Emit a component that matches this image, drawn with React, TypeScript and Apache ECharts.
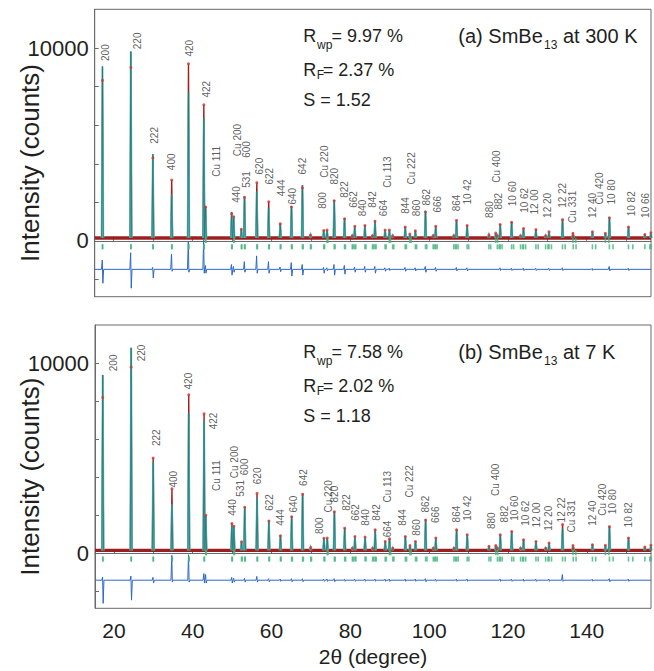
import React, { useEffect, useRef } from 'react';
import * as echarts from 'echarts';

// ---- axis ranges / ticks ----
const X_MIN = 15.2;
const X_MAX = 156.3;
const Y_MIN = -2900;
const Y_MAX = 12020;
const xTicks = [20, 30, 40, 50, 60, 70, 80, 90, 100, 110, 120, 130, 140, 150];
const xTickLabels = [20, 40, 60, 80, 100, 120, 140];
const yTicks = [-2000, 0, 2000, 4000, 6000, 8000, 10000];
const yTickLabels = [0, 10000];

// ---- SmBe13 reflections (2theta, deg) ----
const smbePos = [17.17, 24.37, 29.96, 34.73, 38.99, 42.88, 49.94, 52.39, 53.2, 56.32, 59.33, 62.26, 65.11, 67.89, 69.94, 73.3, 75.95, 78.57, 80.52, 81.17, 83.74, 85.66, 86.3, 88.85, 90.77, 93.96, 96.53, 99.1, 101.05, 101.7, 106.29, 106.97, 109.66, 115.19, 117.33, 118.05, 120.95, 123.2, 123.96, 127.11, 129.57, 130.43, 133.86, 136.57, 141.44, 145.75, 150.59, 154.74, 156.28];
const smbePosKa2 = [17.21, 24.43, 30.04, 34.82, 39.09, 42.99, 50.07, 52.53, 53.34, 56.47, 59.49, 62.43, 65.29, 68.08, 70.14, 73.51, 76.17, 78.8, 80.76, 81.41, 84.0, 85.92, 86.57, 89.13, 91.06, 94.27, 96.85, 99.44, 101.4, 102.05, 106.67, 107.36, 110.07, 115.64, 117.8, 118.53, 121.45, 123.73, 124.5, 127.68, 130.18, 131.05, 134.53, 137.29, 142.26, 146.68, 151.68, 156.01, 157.6];
// ---- Cu (sample holder) reflections ----
const cuPos = [43.32, 50.45, 74.13, 89.94, 95.14, 116.92, 136.5, 144.72];
const cuPosKa2 = [43.43, 50.59, 74.35, 90.23, 95.45, 117.39, 137.22, 145.62];

// ---- panel (a) 300 K ----
const calcA = [9050, 9830, 4500, 2400, 7720, 6370, 1500, 600, 2330, 2550, 1700, 900, 1800, 2900, 300, 560, 2120, 1170, 260, 770, 820, 260, 1040, 560, 260, 730, 520, 1560, 260, 770, 260, 1080, 820, 300, 260, 870, 990, 260, 645, 590, 260, 470, 1130, 260, 470, 1220, 730, 330, 420];
const obsA = [8330, 9000, 4300, 3160, 9190, 7060, 1400, 600, 2250, 3020, 2030, 880, 1760, 2750, 300, 540, 2080, 1150, 260, 760, 800, 260, 1020, 560, 260, 720, 520, 1500, 260, 760, 260, 1060, 800, 300, 260, 850, 960, 260, 640, 580, 260, 470, 1100, 260, 470, 1200, 720, 330, 420];
const diffUpA = [480, 860, 100, 800, 1450, 1540, 250, 0, 400, 700, 400, 120, 350, 250, 0, 100, 250, 200, 0, 120, 150, 0, 150, 80, 0, 100, 80, 150, 0, 100, 0, 100, 80, 0, 0, 80, 60, 0, 60, 60, 0, 60, 80, 0, 50, 150, 60, 0, 0];
const diffDownA = [-720, -980, -450, -100, -150, -200, -300, 0, -150, -200, -200, -120, -350, -300, 0, -200, -300, -250, 0, -150, -150, 0, -200, -100, 0, -100, -80, -150, 0, -100, 0, -80, -80, 0, 0, -60, -60, 0, -60, -60, 0, -60, -60, 0, -50, -80, -60, 0, 0];
const cuCalcA = [1800, 1250, 560, 560, 350, 400, 385, 385];
const cuObsA = [1750, 1250, 560, 560, 350, 400, 385, 385];
const cuDiffUpA = [200, 150, 80, 60, 0, 0, 0, 0];
const cuDiffDownA = [-200, -150, -80, -60, 0, 0, 0, 0];
const bgA = 150;
const diffBaseA = -1480;

// ---- panel (b) 7 K ----
const calcB = [9390, 10820, 4780, 2560, 7370, 6970, 1580, 600, 2440, 2910, 1720, 930, 1940, 3135, 300, 800, 2200, 1330, 260, 890, 860, 260, 1245, 630, 260, 890, 630, 1770, 260, 810, 260, 1245, 980, 370, 260, 980, 1155, 260, 720, 630, 260, 546, 1300, 260, 457, 1418, 808, 330, 420];
const obsB = [8200, 9800, 5010, 3400, 8350, 7340, 1560, 600, 2420, 3150, 1700, 920, 1920, 3100, 300, 790, 2180, 1320, 260, 880, 850, 260, 1230, 620, 260, 880, 620, 1750, 260, 800, 260, 1230, 970, 370, 260, 970, 1140, 260, 710, 620, 260, 540, 1507, 260, 450, 1400, 800, 330, 420];
const diffUpB = [170, 220, 150, 1310, 1340, 350, 150, 0, 100, 200, 80, 60, 80, 80, 0, 60, 80, 60, 0, 60, 60, 0, 60, 60, 0, 60, 60, 80, 0, 60, 0, 60, 60, 0, 0, 60, 60, 0, 60, 60, 0, 60, 300, 0, 50, 80, 60, 0, 0];
const diffDownB = [-1220, -1050, -150, -100, -100, -150, -150, 0, -100, -100, -80, -60, -80, -80, 0, -60, -80, -60, 0, -60, -60, 0, -60, -60, 0, -60, -60, -80, 0, -60, 0, -60, -60, 0, 0, -60, -60, 0, -60, -60, 0, -60, -60, 0, -50, -80, -60, 0, 0];
const cuCalcB = [2000, 1420, 800, 756, 400, 400, 404, 420];
const cuObsB = [2000, 1420, 800, 756, 400, 400, 404, 420];
const cuDiffUpB = [300, 100, 60, 60, 0, 0, 0, 0];
const cuDiffDownB = [-150, -100, -60, -60, 0, 0, 0, 0];
const bgB = 150;
const diffBaseB = -1420;

// ---- peak labels: [text, 2theta, counts] ----
const labelsA: [string, number, number][] = [
  ['200', 18.1, 9313], ['220', 26.29, 9922], ['222', 30.52, 5016], ['400', 34.76, 3642],
  ['420', 39.4, 9542], ['422', 43.63, 7409], ['Cu 111', 46.17, 3299], ['Cu 200', 51.49, 4371],
  ['440', 51.24, 1946], ['531', 53.92, 2726], ['600', 53.92, 4287], ['620', 57.15, 3418],
  ['622', 59.68, 2898], ['444', 62.65, 2289], ['640', 65.44, 1857], ['642', 67.97, 3418],
  ['800', 73.19, 1634], ['Cu 220', 73.63, 3247], ['820', 76.16, 2898], ['822', 78.7, 2206],
  ['662', 80.98, 1686], ['840', 83.18, 1249], ['842', 85.87, 1686], ['664', 88.59, 1249],
  ['Cu 113', 89.68, 2726], ['844', 94.09, 1374], ['Cu 222', 95.76, 2898], ['860', 96.88, 1249],
  ['862', 99.41, 1805], ['666', 102.28, 1441], ['864', 107.17, 1509], ['10 42', 109.96, 1857],
  ['880', 115.46, 1165], ['Cu 400', 117.16, 2987], ['882', 117.74, 1597], ['10 60', 121.37, 1769],
  ['10 62', 124.34, 1426], ['12 00', 126.87, 1337], ['12 20', 130.24, 1165], ['12 22', 133.89, 1686],
  ['Cu 331', 136.58, 905], ['12 40', 141.5, 1165], ['Cu 420', 143.35, 1857], ['10 80', 146.32, 1857],
  ['10 82', 151.39, 1249], ['10 66', 155.02, 1165],
];
const labelsB: [string, number, number][] = [
  ['200', 20.13, 9559], ['220', 27.15, 10084], ['222', 30.95, 5620], ['400', 35.16, 3435],
  ['420', 39.14, 8597], ['422', 45.48, 6497], ['Cu 111', 46.17, 3256], ['Cu 200', 50.81, 3923],
  ['440', 50.1, 1943], ['531', 52.28, 2952], ['600', 53.34, 4081], ['620', 56.44, 3608],
  ['622', 59.58, 2206], ['444', 62.39, 1418], ['640', 65.59, 2122], ['642', 68.12, 3519],
  ['800', 72.36, 982], ['Cu 220', 74.46, 2122], ['820', 76.16, 2647], ['822', 79.13, 2206],
  ['662', 81.49, 1681], ['840', 83.95, 1418], ['842', 86.73, 1681], ['Cu 113', 89.52, 2647],
  ['664', 89.52, 809], ['844', 93.48, 1418], ['Cu 222', 95.18, 2910], ['860', 96.88, 893],
  ['862', 99.24, 2122], ['666', 101.64, 1560], ['864', 107.02, 1597], ['10 42', 109.81, 1681],
  ['880', 115.89, 1245], ['Cu 400', 116.98, 2994], ['882', 119.27, 1597], ['10 60', 121.8, 1681],
  ['10 62', 124.59, 1418], ['12 00', 127.3, 1334], ['12 20', 130.5, 1155], ['12 22', 133.64, 1597],
  ['Cu 331', 136.18, 1071], ['12 40', 141.65, 1418], ['Cu 420', 144.04, 1943], ['10 80', 146.57, 2032],
  ['10 82', 150.78, 1334],
];

const FONT = '"Liberation Sans", Arial, Helvetica, sans-serif';
const PEAK_HW = 0.2;
const RED = '#9c1f1f';
const DOT = '#d8362e';
const TEAL_L = '#6cc0bc';
const TEAL_D = '#1d7472';
const GREEN = '#3db57a';
const BLUE = '#2d67c9';
const AXIS = '#6a6a6a';
const TXT = '#231f20';

function spikes(pos: number[], h: number[], bg: number) {
  return pos.map((p, i) => ({ coords: [[p - PEAK_HW, bg], [p, h[i]], [p + PEAK_HW, bg]] }));
}

function diffPoints(pos: number[], up: number[], down: number[], base: number) {
  const pts: number[][] = [];
  pos.forEach((p, i) => {
    if (up[i] || down[i]) {
      pts.push([p - 0.25, base], [p - 0.05, base + up[i]], [p + 0.1, base + down[i]], [p + 0.3, base]);
    }
  });
  pts.sort((a, b) => a[0] - b[0]);
  return [[X_MIN, base], ...pts, [X_MAX, base]];
}

function panelSeries(
  idx: number, calc: number[], obs: number[], up: number[], down: number[],
  cuCalc: number[], cuObs: number[], cuUp: number[], cuDown: number[],
  bg: number, dBase: number, labels: [string, number, number][]
) {
  const allPos = [...smbePos, ...cuPos];
  const allCalc = [...calc, ...cuCalc];
  const allObs = [...obs, ...cuObs];
  const common = { xAxisIndex: idx, yAxisIndex: idx, silent: true };
  return [
    {
      ...common, type: 'line', data: [[X_MIN, bg], [X_MAX, bg]], symbol: 'none',
      lineStyle: { color: RED, width: 3.4 }, z: 2,
    },
    {
      ...common, type: 'lines', coordinateSystem: 'cartesian2d', polyline: true,
      data: spikes(allPos, allObs, bg), lineStyle: { color: RED, width: 1.4, opacity: 1 }, z: 3,
    },
    {
      ...common, type: 'lines', coordinateSystem: 'cartesian2d', polyline: true,
      data: spikes(allPos, allCalc, bg), lineStyle: { color: TEAL_L, width: 2, opacity: 1 }, z: 4,
    },
    {
      ...common, type: 'lines', coordinateSystem: 'cartesian2d', polyline: true,
      data: spikes(allPos, allCalc, bg), lineStyle: { color: TEAL_D, width: 0.8, opacity: 1 }, z: 5,
    },
    {
      ...common, type: 'scatter', symbol: 'circle', symbolSize: 3,
      data: allPos.map((p, i) => [p, allObs[i]]), itemStyle: { color: DOT }, z: 6,
    },
    {
      ...common, type: 'scatter', symbol: 'rect', symbolSize: [1.6, 5],
      data: [...smbePos, ...smbePosKa2].map((p) => [p, -310]), itemStyle: { color: GREEN }, z: 6,
    },
    {
      ...common, type: 'scatter', symbol: 'rect', symbolSize: [1.6, 5],
      data: [...cuPos, ...cuPosKa2].map((p) => [p, 20]), itemStyle: { color: GREEN }, z: 7,
    },
    {
      ...common, type: 'line', symbol: 'none',
      data: diffPoints(allPos, [...up, ...cuUp], [...down, ...cuDown], dBase),
      lineStyle: { color: BLUE, width: 1 }, z: 5,
    },
    {
      ...common, type: 'scatter', symbolSize: 1, itemStyle: { color: 'rgba(0,0,0,0)' }, z: 8,
      data: labels.map(([t, x, y]) => ({ name: t, value: [x, y] })),
      label: {
        show: true, formatter: '{b}', rotate: 90, position: [0, 0], align: 'left',
        verticalAlign: 'middle', fontSize: 10, color: '#333', fontFamily: FONT,
      },
    },
  ];
}

function textEl(text: string, x: number, y: number, size: number) {
  return {
    type: 'text', x, y, silent: true,
    style: { text, fill: TXT, fontSize: size, fontFamily: FONT, verticalAlign: 'middle', textVerticalAlign: 'middle' },
  };
}

export default function App() {
  const ref = useRef<HTMLDivElement>(null);
  useEffect(() => {
    if (!ref.current) return;
    const chart = echarts.init(ref.current, undefined, { renderer: 'svg' });
    const xAxisBase = (gi: number, showLabels: boolean) => ({
      type: 'value', gridIndex: gi, min: X_MIN, max: X_MAX,
      axisLine: { show: true, lineStyle: { color: AXIS, width: 1 } },
      axisTick: { show: true, inside: true, length: 4, customValues: xTicks, lineStyle: { color: AXIS } },
      axisLabel: showLabels
        ? { show: true, customValues: xTickLabels, fontSize: 21, color: TXT, margin: 12, fontFamily: FONT, formatter: (v: number) => String(v) }
        : { show: false },
      splitLine: { show: false },
      nameMoveOverlap: false,
      ...(showLabels
        ? { name: '2θ (degree)', nameLocation: 'middle', nameGap: 38, nameTextStyle: { fontSize: 21, color: TXT, fontFamily: FONT } }
        : {}),
    });
    const yAxisBase = (gi: number) => ({
      type: 'value', gridIndex: gi, min: Y_MIN, max: Y_MAX,
      axisLine: { show: true, lineStyle: { color: AXIS, width: 1 } },
      axisTick: { show: true, inside: true, length: 4, customValues: yTicks, lineStyle: { color: AXIS } },
      axisLabel: { show: true, customValues: yTickLabels, fontSize: 22, color: TXT, margin: 6, fontFamily: FONT, formatter: (v: number) => String(v) },
      splitLine: { show: false },
      name: 'Intensity (counts)', nameLocation: 'middle', nameRotate: 90, nameGap: 52,
      nameMoveOverlap: false,
      nameTextStyle: { fontSize: 26, color: TXT, fontFamily: FONT, padding: [0, 20, 0, 0] },
    });
    const gridBase = { show: true, borderColor: AXIS, borderWidth: 1, backgroundColor: 'transparent', containLabel: false, outerBoundsMode: 'none' };
    chart.setOption({
      animation: false,
      backgroundColor: '#ffffff',
      grid: [
        { ...gridBase, left: 94.7, top: 9.3, width: 556.3, height: 287.4 },
        { ...gridBase, left: 95, top: 325, width: 556, height: 283.3 },
      ],
      xAxis: [xAxisBase(0, false), xAxisBase(1, true)],
      yAxis: [yAxisBase(0), yAxisBase(1)],
      series: [
        ...panelSeries(0, calcA, obsA, diffUpA, diffDownA, cuCalcA, cuObsA, cuDiffUpA, cuDiffDownA, bgA, diffBaseA, labelsA),
        ...panelSeries(1, calcB, obsB, diffUpB, diffDownB, cuCalcB, cuObsB, cuDiffUpB, cuDiffDownB, bgB, diffBaseB, labelsB),
      ],
      graphic: [
        textEl('R', 303.3, 36, 18), textEl('wp', 317, 45, 12), textEl('= 9.97 %', 331.5, 36, 18),
        textEl('R', 303.3, 69.7, 18), textEl('F', 316.7, 74.5, 12), textEl('= 2.37 %', 322.7, 69.7, 18),
        textEl('S = 1.52', 303.3, 100, 18),
        textEl('(a) SmBe', 458.3, 36, 20), textEl('13', 544, 45, 12), textEl('at 300 K', 563, 36, 20),
        textEl('R', 303.3, 352, 18), textEl('wp', 317, 361, 12), textEl('= 7.58 %', 331.5, 352, 18),
        textEl('R', 303.3, 385.7, 18), textEl('F', 316.7, 390.5, 12), textEl('= 2.02 %', 322.7, 385.7, 18),
        textEl('S = 1.18', 303.3, 416, 18),
        textEl('(b) SmBe', 458.3, 352, 20), textEl('13', 544, 361, 12), textEl('at 7 K', 563, 352, 20),
      ],
    });
    return () => chart.dispose();
  }, []);
  return <div ref={ref} style={{ position: 'fixed', left: 0, top: 0, width: 654, height: 671, background: '#fff' }} />;
}
